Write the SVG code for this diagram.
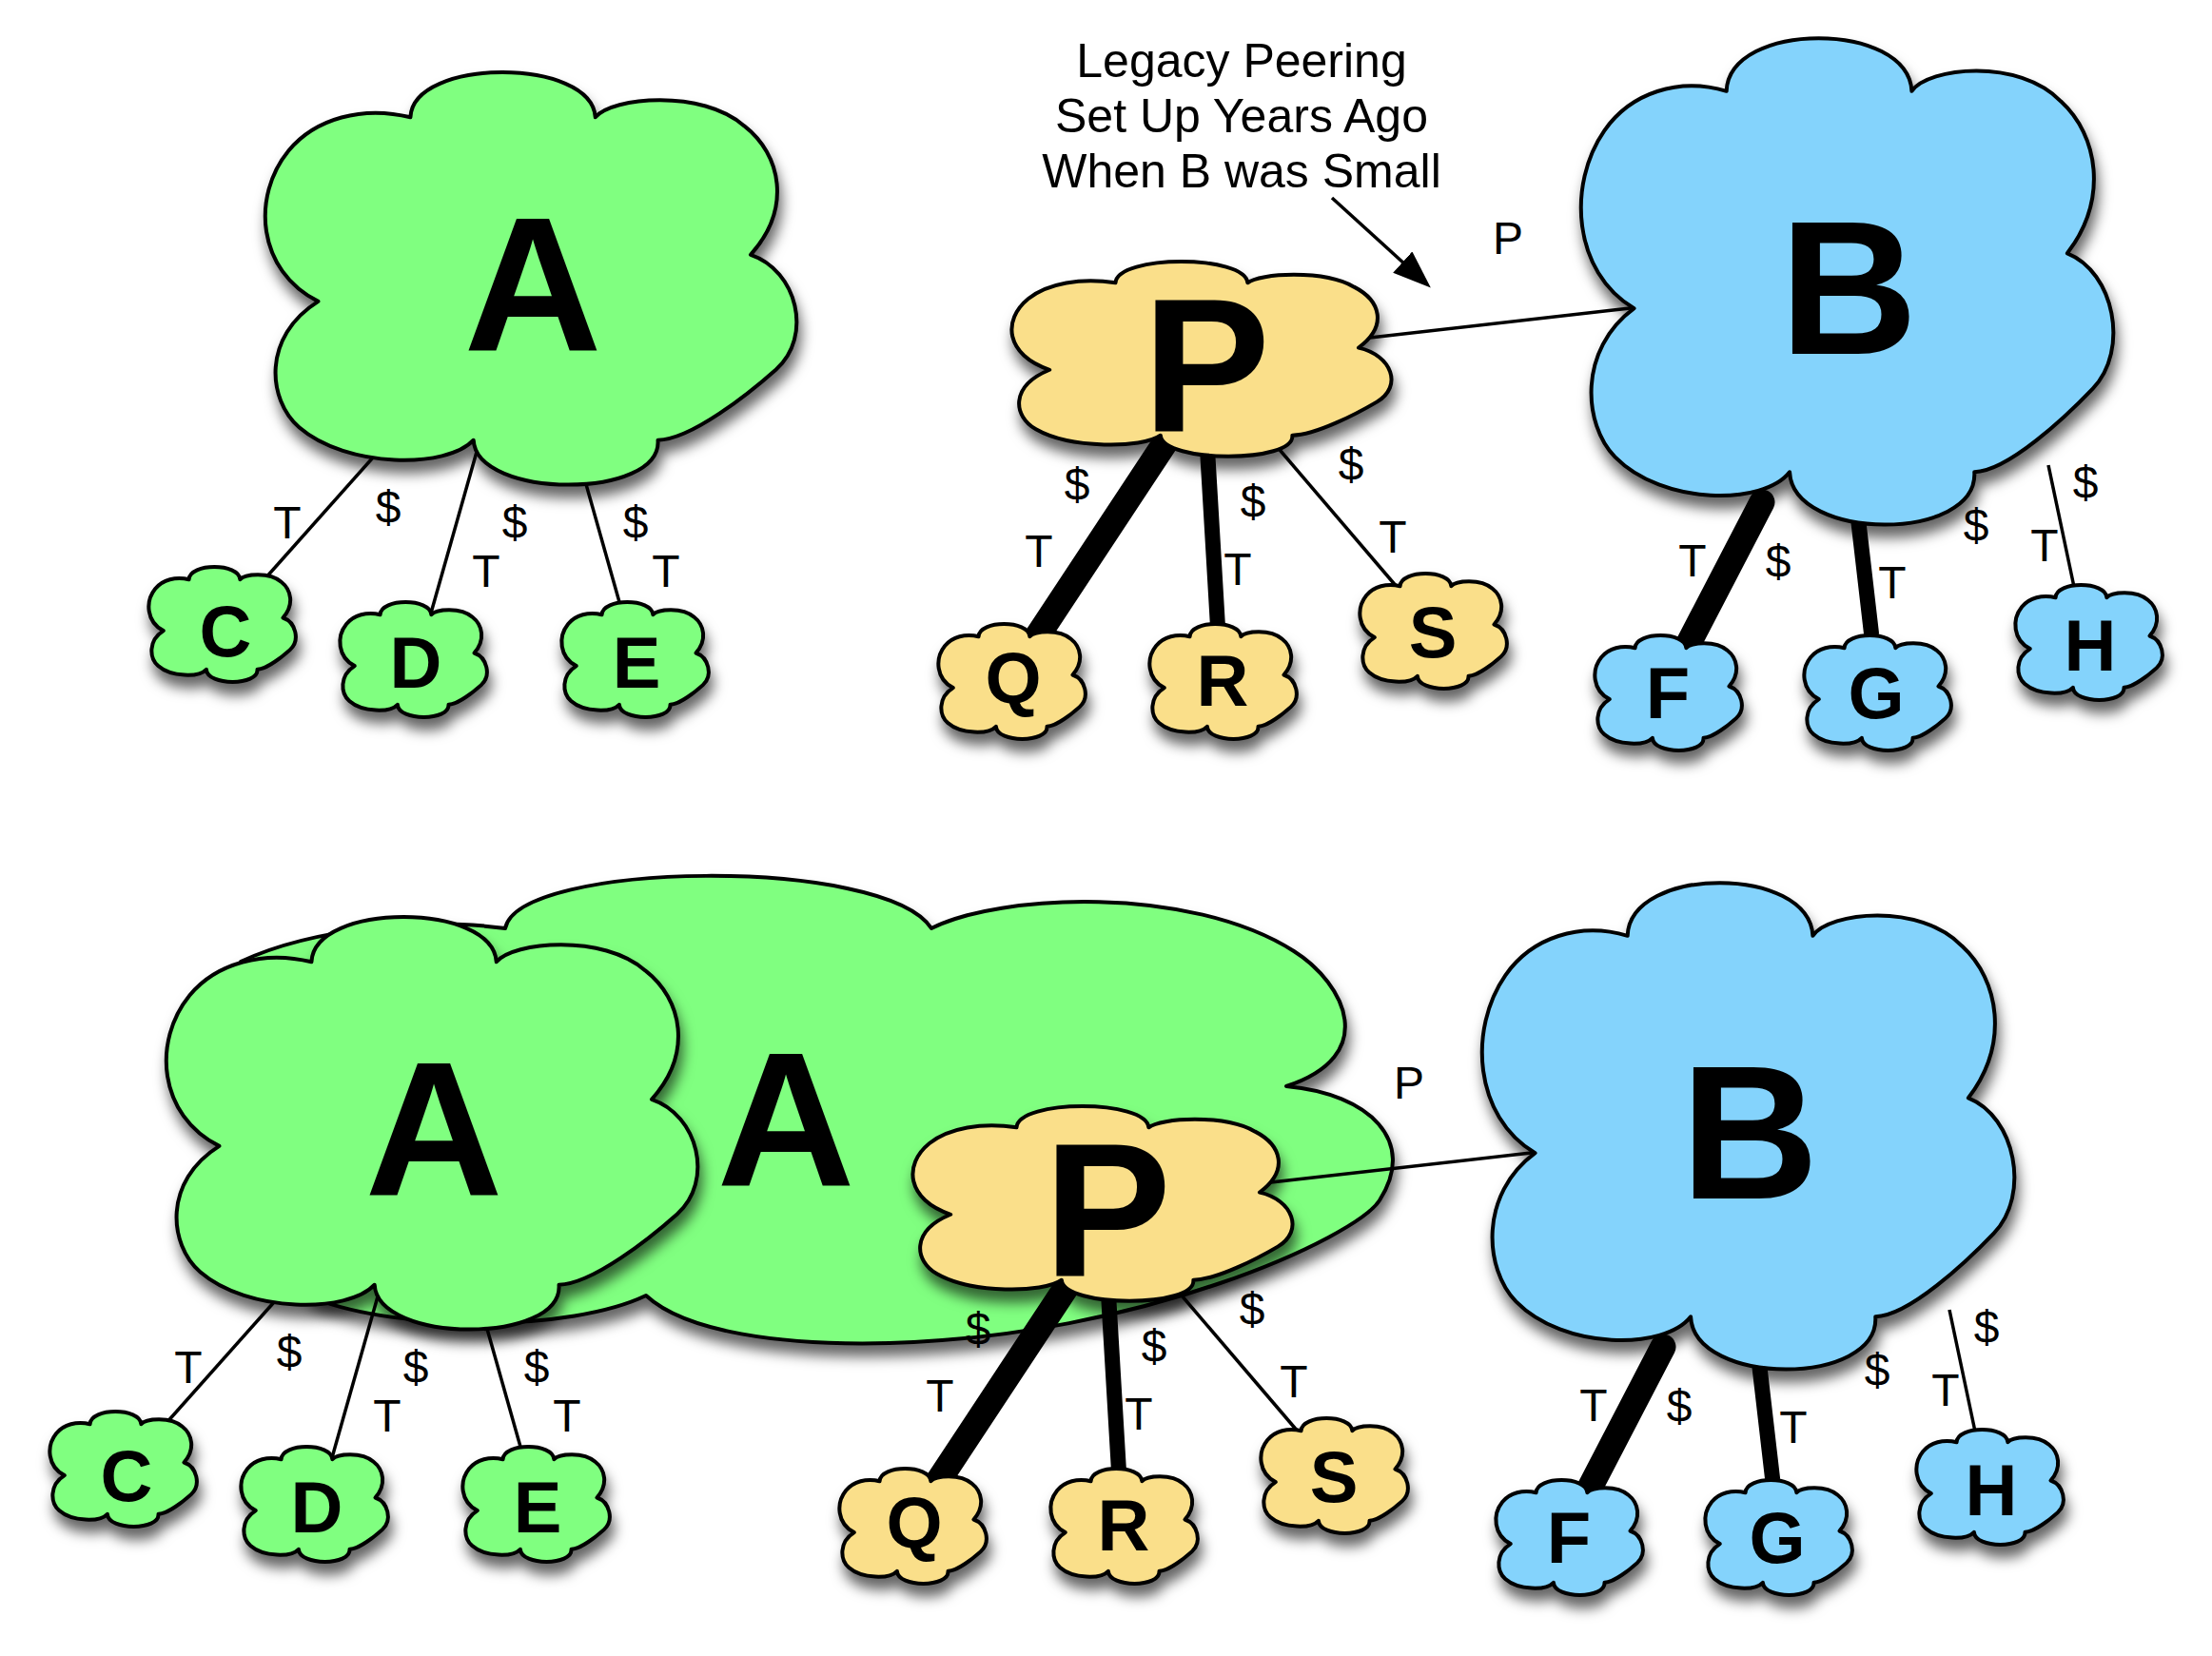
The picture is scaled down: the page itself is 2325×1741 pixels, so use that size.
<svg xmlns="http://www.w3.org/2000/svg" xmlns:xlink="http://www.w3.org/1999/xlink" width="2325" height="1741" viewBox="0 0 2325 1741">
<defs>
<style>
.cl{stroke:#000;stroke-width:4;stroke-linejoin:round}
.g{fill:#80FF80}
.b{fill:#84D3FC}
.y{fill:#FADF8A}
.big{font-family:"Liberation Sans",Arial,Helvetica,sans-serif;font-weight:bold;font-size:201px;text-anchor:middle;fill:#000}
.sm{font-family:"Liberation Sans",Arial,Helvetica,sans-serif;font-weight:bold;font-size:76px;text-anchor:middle;fill:#000}
.lbl{font-family:"Liberation Sans",Arial,Helvetica,sans-serif;font-size:48px;text-anchor:middle;fill:#000}
.note{font-family:"Liberation Sans",Arial,Helvetica,sans-serif;font-size:50px;text-anchor:middle;fill:#000}
.thin{stroke:#000;stroke-width:3.5;fill:none}
.thick{stroke:#000;stroke-width:27;stroke-linecap:round;fill:none}
.med{stroke:#000;stroke-width:16;stroke-linecap:round;fill:none}
</style>
<path id="cloud" vector-effect="non-scaling-stroke" d="M270,109 C275,-36 612,-36 619,109 C650,60 820,40 900,130 C970,200 990,330 912,442 C1000,480 1030,640 960,720 C910,777 800,890 737,891 C745,1035 395,1035 389,891 C340,960 150,960 60,860 C0,793 -10,640 96,555 C-20,480 -30,300 40,190 C90,112 180,80 270,109 Z"/>
<filter id="sh" x="-20%" y="-20%" width="140%" height="160%">
<feDropShadow dx="3" dy="12" stdDeviation="7" flood-color="#000" flood-opacity="0.6"/>
</filter>
<marker id="ah" markerUnits="userSpaceOnUse" markerWidth="40" markerHeight="30" viewBox="0 0 40 30" refX="1" refY="15" orient="auto">
<path d="M0,0 L40,15 L0,30 Z" fill="#000"/>
</marker>
</defs>
<rect width="2325" height="1741" fill="#fff"/>

<!-- merged big A cloud (bottom) -->
<g id="A-merged">
<path class="cl g" filter="url(#sh)" d="M679,1362 C600,1400 420,1400 330,1365 C290,1330 270,1080 253,1011 C330,975 450,965 531,976 C545,905 930,900 979,976 C1050,940 1250,930 1360,1000 C1415,1035 1450,1110 1352,1142 C1440,1150 1490,1200 1450,1262 C1425,1301 1200,1405 935,1412 C820,1415 720,1400 679,1362 Z"/>
<text class="big" x="826" y="1246">A</text>
</g>

<!-- connectors -->
<g id="connectors">
<g id="top-links">
<line class="thin" x1="392" y1="481" x2="278" y2="609"/>
<line class="thin" x1="503" y1="468" x2="452" y2="648"/>
<line class="thin" x1="614" y1="502" x2="653" y2="640"/>
<line class="thick" x1="1225" y1="465" x2="1083" y2="680"/>
<line class="med" x1="1269" y1="472" x2="1280" y2="659"/>
<line class="thin" x1="1340" y1="467" x2="1469" y2="618"/>
<line class="thin" x1="1440" y1="355" x2="1722" y2="323"/>
<line class="thick" x1="1852" y1="528" x2="1772" y2="682"/>
<line class="med" x1="1953" y1="545" x2="1967" y2="666"/>
<line class="thin" x1="2153" y1="489" x2="2180" y2="617"/>
<line class="thin" x1="1400" y1="208" x2="1475" y2="276.2" marker-end="url(#ah)"/>
</g>
<g id="bottom-links" transform="translate(-104,888)">
<line class="thin" x1="392" y1="481" x2="278" y2="609"/>
<line class="thin" x1="503" y1="468" x2="452" y2="648"/>
<line class="thin" x1="614" y1="502" x2="653" y2="640"/>
<line class="thick" x1="1225" y1="465" x2="1083" y2="680"/>
<line class="med" x1="1269" y1="472" x2="1280" y2="659"/>
<line class="thin" x1="1340" y1="467" x2="1469" y2="618"/>
<line class="thin" x1="1440" y1="355" x2="1722" y2="323"/>
<line class="thick" x1="1852" y1="528" x2="1772" y2="682"/>
<line class="med" x1="1953" y1="545" x2="1967" y2="666"/>
<line class="thin" x1="2153" y1="489" x2="2180" y2="617"/>
</g>
</g>

<!-- top nodes -->
<g id="top-nodes">
<g id="A"><g filter="url(#sh)"><use xlink:href="#cloud" href="#cloud" class="cl g" transform="translate(281,76) scale(0.557,0.434)"/></g><text class="big" x="560" y="368">A</text></g>
<g id="P"><g filter="url(#sh)"><use xlink:href="#cloud" href="#cloud" class="cl y" transform="translate(1065,275) scale(0.398,0.205)"/></g><text class="big" x="1268" y="454">P</text></g>
<g id="B"><g filter="url(#sh)"><use xlink:href="#cloud" href="#cloud" class="cl b" transform="translate(1664,40) scale(0.558,0.512)"/></g><text class="big" x="1943" y="372">B</text></g>
<g id="C"><g filter="url(#sh)"><use xlink:href="#cloud" href="#cloud" class="cl g" transform="translate(157,596) scale(0.154,0.121)"/></g><text class="sm" x="237" y="690">C</text></g>
<g id="D"><g filter="url(#sh)"><use xlink:href="#cloud" href="#cloud" class="cl g" transform="translate(358,633) scale(0.154,0.121)"/></g><text class="sm" x="437" y="723">D</text></g>
<g id="E"><g filter="url(#sh)"><use xlink:href="#cloud" href="#cloud" class="cl g" transform="translate(591,633) scale(0.154,0.121)"/></g><text class="sm" x="669" y="723">E</text></g>
<g id="Q"><g filter="url(#sh)"><use xlink:href="#cloud" href="#cloud" class="cl y" transform="translate(987,656) scale(0.154,0.121)"/></g><text class="sm" x="1065" y="739">Q</text></g>
<g id="R"><g filter="url(#sh)"><use xlink:href="#cloud" href="#cloud" class="cl y" transform="translate(1209,656) scale(0.154,0.121)"/></g><text class="sm" x="1285" y="742">R</text></g>
<g id="S"><g filter="url(#sh)"><use xlink:href="#cloud" href="#cloud" class="cl y" transform="translate(1430,603) scale(0.154,0.121)"/></g><text class="sm" x="1506" y="691">S</text></g>
<g id="F"><g filter="url(#sh)"><use xlink:href="#cloud" href="#cloud" class="cl b" transform="translate(1677,668) scale(0.154,0.121)"/></g><text class="sm" x="1753" y="755">F</text></g>
<g id="G"><g filter="url(#sh)"><use xlink:href="#cloud" href="#cloud" class="cl b" transform="translate(1897,668) scale(0.154,0.121)"/></g><text class="sm" x="1972" y="755">G</text></g>
<g id="H"><g filter="url(#sh)"><use xlink:href="#cloud" href="#cloud" class="cl b" transform="translate(2119,615) scale(0.154,0.121)"/></g><text class="sm" x="2197" y="705">H</text></g>
</g>

<!-- bottom nodes -->
<g id="bottom-nodes" transform="translate(-104,888)">
<g id="A2"><g filter="url(#sh)"><use xlink:href="#cloud" href="#cloud" class="cl g" transform="translate(281,76) scale(0.557,0.434)"/></g><text class="big" x="560" y="368">A</text></g>
<g id="P2"><g filter="url(#sh)"><use xlink:href="#cloud" href="#cloud" class="cl y" transform="translate(1065,275) scale(0.398,0.205)"/></g><text class="big" x="1268" y="454">P</text></g>
<g id="B2"><g filter="url(#sh)"><use xlink:href="#cloud" href="#cloud" class="cl b" transform="translate(1664,40) scale(0.558,0.512)"/></g><text class="big" x="1943" y="372">B</text></g>
<g id="C2"><g filter="url(#sh)"><use xlink:href="#cloud" href="#cloud" class="cl g" transform="translate(157,596) scale(0.154,0.121)"/></g><text class="sm" x="237" y="690">C</text></g>
<g id="D2"><g filter="url(#sh)"><use xlink:href="#cloud" href="#cloud" class="cl g" transform="translate(358,633) scale(0.154,0.121)"/></g><text class="sm" x="437" y="723">D</text></g>
<g id="E2"><g filter="url(#sh)"><use xlink:href="#cloud" href="#cloud" class="cl g" transform="translate(591,633) scale(0.154,0.121)"/></g><text class="sm" x="669" y="723">E</text></g>
<g id="Q2"><g filter="url(#sh)"><use xlink:href="#cloud" href="#cloud" class="cl y" transform="translate(987,656) scale(0.154,0.121)"/></g><text class="sm" x="1065" y="739">Q</text></g>
<g id="R2"><g filter="url(#sh)"><use xlink:href="#cloud" href="#cloud" class="cl y" transform="translate(1209,656) scale(0.154,0.121)"/></g><text class="sm" x="1285" y="742">R</text></g>
<g id="S2"><g filter="url(#sh)"><use xlink:href="#cloud" href="#cloud" class="cl y" transform="translate(1430,603) scale(0.154,0.121)"/></g><text class="sm" x="1506" y="691">S</text></g>
<g id="F2"><g filter="url(#sh)"><use xlink:href="#cloud" href="#cloud" class="cl b" transform="translate(1677,668) scale(0.154,0.121)"/></g><text class="sm" x="1753" y="755">F</text></g>
<g id="G2"><g filter="url(#sh)"><use xlink:href="#cloud" href="#cloud" class="cl b" transform="translate(1897,668) scale(0.154,0.121)"/></g><text class="sm" x="1972" y="755">G</text></g>
<g id="H2"><g filter="url(#sh)"><use xlink:href="#cloud" href="#cloud" class="cl b" transform="translate(2119,615) scale(0.154,0.121)"/></g><text class="sm" x="2197" y="705">H</text></g>
</g>

<!-- labels -->
<g id="labels">
<text class="note" x="1305" y="81">Legacy Peering</text>
<text class="note" x="1305" y="139">Set Up Years Ago</text>
<text class="note" x="1305" y="197">When B was Small</text>
<g id="top-labels">
<text class="lbl" x="302" y="566">T</text>
<text class="lbl" x="408" y="550">$</text>
<text class="lbl" x="541" y="566">$</text>
<text class="lbl" x="511" y="617">T</text>
<text class="lbl" x="668" y="566">$</text>
<text class="lbl" x="700" y="617">T</text>
<text class="lbl" x="1132" y="526">$</text>
<text class="lbl" x="1092" y="596">T</text>
<text class="lbl" x="1317" y="544">$</text>
<text class="lbl" x="1301" y="615">T</text>
<text class="lbl" x="1420" y="505">$</text>
<text class="lbl" x="1464" y="581">T</text>
<text class="lbl" x="1779" y="606">T</text>
<text class="lbl" x="1869" y="607">$</text>
<text class="lbl" x="1989" y="629">T</text>
<text class="lbl" x="2077" y="569">$</text>
<text class="lbl" x="2149" y="590">T</text>
<text class="lbl" x="2192" y="524">$</text>
<text class="lbl" x="1585" y="267">P</text>
</g>
<g id="bottom-labels" transform="translate(-104,888)">
<text class="lbl" x="302" y="566">T</text>
<text class="lbl" x="408" y="550">$</text>
<text class="lbl" x="541" y="566">$</text>
<text class="lbl" x="511" y="617">T</text>
<text class="lbl" x="668" y="566">$</text>
<text class="lbl" x="700" y="617">T</text>
<text class="lbl" x="1132" y="526">$</text>
<text class="lbl" x="1092" y="596">T</text>
<text class="lbl" x="1317" y="544">$</text>
<text class="lbl" x="1301" y="615">T</text>
<text class="lbl" x="1420" y="505">$</text>
<text class="lbl" x="1464" y="581">T</text>
<text class="lbl" x="1779" y="606">T</text>
<text class="lbl" x="1869" y="607">$</text>
<text class="lbl" x="1989" y="629">T</text>
<text class="lbl" x="2077" y="569">$</text>
<text class="lbl" x="2149" y="590">T</text>
<text class="lbl" x="2192" y="524">$</text>
<text class="lbl" x="1585" y="267">P</text>
</g>
</g>
</svg>
